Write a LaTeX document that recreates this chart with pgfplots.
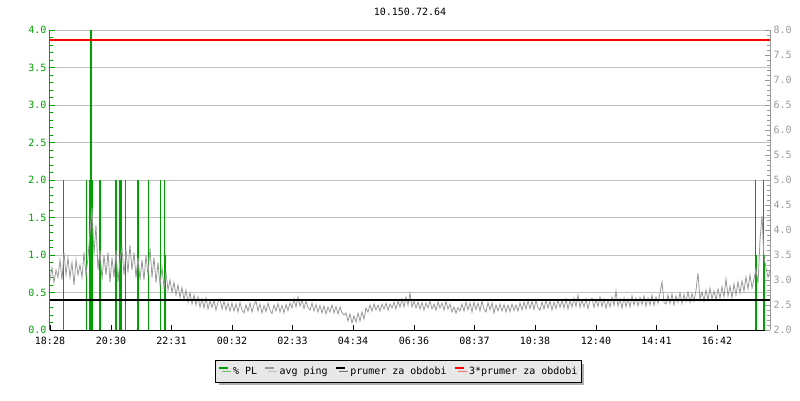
\documentclass[border=0pt]{standalone}
\usepackage{fontspec}
\setmainfont{DejaVu Sans Mono}
\usepackage{pgfplots}
\pgfplotsset{compat=1.18}
\usetikzlibrary{shadows}

\definecolor{plgreen}{RGB}{0,160,0}
\definecolor{pinggray}{RGB}{153,153,153}
\definecolor{gridgray}{RGB}{192,192,192}
\definecolor{legfill}{RGB}{232,232,232}
\definecolor{shadowgray}{RGB}{96,96,96}

\begin{document}
\begin{tikzpicture}[font=\fontsize{10}{12}\selectfont]
\path[use as bounding box] (-50pt,-70pt) rectangle (750pt,330pt);

% levy osa: ztrata paketu
\begin{axis}[
  scale only axis, width=720pt, height=300pt,
  xmin=0, xmax=1440, ymin=0, ymax=4,
  axis x line*=bottom, axis y line*=left,
  x axis line style={black, line width=1pt},
  y axis line style={plgreen, line width=1pt},
  tick align=inside,
  major tick length=5pt, minor tick length=3pt,
  xtick={0,122,243,364,485,606,728,849,970,1092,1213,1334},
  xticklabels={18:28,20:30,22:31,00:32,02:33,04:34,06:36,08:37,10:38,12:40,14:41,16:42},
  x tick style={black, line width=0.8pt},
  ytick={0,0.5,...,4}, minor y tick num=4,
  y tick style={plgreen, line width=0.8pt},
  ymajorgrids, major grid style={gridgray, line width=0.8pt},
  yticklabel style={text=plgreen, /pgf/number format/.cd, fixed, fixed zerofill, precision=1},
  /pgf/number format/assume math mode=true,
  xticklabel style={yshift=-4pt},
  title={10.150.72.64}, title style={at={(0.5,1)}, anchor=center, yshift=12pt},
]
\addplot[ycomb, plgreen, line width=1.4pt, mark=none] coordinates {
  (27,2)(73,2)(80,2)(82,4)(84,2)(100,2)(132,2)(140,2)(142,2)(151,2)
  (175,2)(177,2)(197,2)(221,2)(229,2)(231,1)
  (1411,2)(1413,1)(1427,2)(1429,1)
};
\end{axis}

% prava osa: ping
\begin{axis}[
  scale only axis, width=720pt, height=300pt,
  xmin=0, xmax=1440, ymin=2, ymax=8,
  axis x line=none, axis y line*=right,
  y axis line style={pinggray, line width=1pt},
  tick align=inside,
  major tick length=5pt, minor tick length=3pt,
  ytick={2,2.5,...,8}, minor y tick num=4,
  y tick style={pinggray, line width=0.8pt},
  yticklabel style={text=pinggray, /pgf/number format/.cd, fixed, fixed zerofill, precision=1},
  /pgf/number format/assume math mode=true,
  legend columns=4,
  legend style={at={(0.484,-0.138)}, anchor=center, draw=black, fill=legfill,
    line width=0.8pt, inner xsep=2pt, inner ysep=4pt,
    drop shadow={shadow xshift=3pt, shadow yshift=-3pt, fill=shadowgray},
    /tikz/every odd column/.append style={column sep=2pt},
    /tikz/every even column/.append style={column sep=5pt}},
  legend image code/.code={\draw[#1, line width=2.5pt] (0pt,3.5pt) -- (9pt,3.5pt);},
]
\addlegendimage{plgreen}
\addlegendimage{pinggray}
\addlegendimage{black}
\addlegendimage{red}
\addplot[pinggray, line width=0.8pt, mark=none, forget plot] coordinates {
(0,3.00)(4,3.25)(8,2.95)(12,3.20)(16,3.05)(20,3.40)(24,3.00)(28,3.55)(32,3.10)(36,3.45)
(40,3.05)(44,3.35)(48,2.90)(52,3.40)(56,3.10)(60,3.30)(64,3.05)(68,3.55)(72,3.10)(76,3.45)
(80,3.95)(84,4.45)(88,3.50)(92,4.10)(96,3.20)(100,3.60)(104,3.00)(108,3.50)(112,3.10)(116,3.55)
(120,2.95)(124,3.45)(128,3.05)(132,3.60)(136,2.95)(140,3.40)(144,3.65)(148,3.10)(152,3.60)(156,3.15)
(160,3.70)(164,3.20)(168,3.55)(172,3.05)(176,3.45)(180,3.00)(184,3.40)(188,3.00)(192,3.50)(196,3.10)
(200,3.65)(204,3.05)(208,3.45)(212,2.95)(216,3.35)(220,2.90)(224,3.25)(228,2.85)(232,3.15)(236,2.80)
(240,3.00)(244,2.75)(248,2.95)(252,2.70)(256,2.90)(260,2.65)(264,2.85)(268,2.60)(272,2.80)(276,2.55)
(280,2.75)(284,2.52)(288,2.70)(292,2.50)(296,2.66)(300,2.46)(304,2.62)(308,2.44)(312,2.64)(316,2.42)
(320,2.58)(324,2.45)(328,2.60)(332,2.40)(336,2.56)(340,2.62)(344,2.42)(348,2.58)(352,2.40)(356,2.54)
(360,2.38)(364,2.54)(368,2.38)(372,2.52)(376,2.36)(380,2.55)(384,2.40)(388,2.34)(392,2.50)(396,2.38)
(400,2.54)(404,2.36)(408,2.50)(412,2.58)(416,2.38)(420,2.52)(424,2.34)(428,2.49)(432,2.37)(436,2.54)
(440,2.40)(444,2.33)(448,2.50)(452,2.38)(456,2.53)(460,2.36)(464,2.49)(468,2.34)(472,2.51)(476,2.39)
(480,2.54)(484,2.44)(488,2.62)(492,2.46)(496,2.66)(500,2.48)(504,2.60)(508,2.43)(512,2.58)(516,2.45)
(520,2.40)(524,2.54)(528,2.38)(532,2.51)(536,2.36)(540,2.49)(544,2.34)(548,2.48)(552,2.32)(556,2.46)
(560,2.36)(564,2.50)(568,2.34)(572,2.47)(576,2.32)(580,2.46)(584,2.35)(588,2.30)(592,2.34)(596,2.18)
(600,2.32)(604,2.14)(608,2.28)(612,2.16)(616,2.34)(620,2.18)(624,2.36)(628,2.22)(632,2.44)(636,2.36)
(640,2.50)(644,2.38)(648,2.52)(652,2.40)(656,2.50)(660,2.38)(664,2.52)(668,2.42)(672,2.54)(676,2.40)
(680,2.52)(684,2.44)(688,2.56)(692,2.42)(696,2.58)(700,2.46)(704,2.62)(708,2.46)(712,2.66)(716,2.50)
(720,2.74)(724,2.46)(728,2.58)(732,2.44)(736,2.56)(740,2.42)(744,2.55)(748,2.40)(752,2.54)(756,2.44)
(760,2.58)(764,2.42)(768,2.52)(772,2.40)(776,2.56)(780,2.44)(784,2.54)(788,2.40)(792,2.57)(796,2.42)
(800,2.52)(804,2.36)(808,2.46)(812,2.34)(816,2.45)(820,2.38)(824,2.52)(828,2.38)(832,2.56)(836,2.40)
(840,2.54)(844,2.36)(848,2.56)(852,2.41)(856,2.54)(860,2.38)(864,2.58)(868,2.42)(872,2.36)(876,2.55)
(880,2.40)(884,2.54)(888,2.34)(892,2.50)(896,2.38)(900,2.52)(904,2.38)(908,2.51)(912,2.36)(916,2.50)
(920,2.37)(924,2.52)(928,2.39)(932,2.50)(936,2.38)(940,2.54)(944,2.40)(948,2.56)(952,2.42)(956,2.58)
(960,2.43)(964,2.57)(968,2.41)(972,2.60)(976,2.44)(980,2.40)(984,2.56)(988,2.42)(992,2.60)(996,2.44)
(1000,2.58)(1004,2.40)(1008,2.56)(1012,2.43)(1016,2.60)(1020,2.45)(1024,2.59)(1028,2.44)(1032,2.62)(1036,2.42)
(1040,2.58)(1044,2.46)(1048,2.64)(1052,2.47)(1056,2.70)(1060,2.45)(1064,2.60)(1068,2.46)(1072,2.62)(1076,2.43)
(1080,2.59)(1084,2.64)(1088,2.45)(1092,2.61)(1096,2.47)(1100,2.66)(1104,2.47)(1108,2.62)(1112,2.44)(1116,2.60)
(1120,2.46)(1124,2.66)(1128,2.49)(1132,2.78)(1136,2.48)(1140,2.62)(1144,2.44)(1148,2.64)(1152,2.47)(1156,2.62)
(1160,2.46)(1164,2.68)(1168,2.50)(1172,2.64)(1176,2.48)(1180,2.65)(1184,2.51)(1188,2.68)(1192,2.48)(1196,2.64)
(1200,2.50)(1204,2.70)(1208,2.49)(1212,2.66)(1216,2.53)(1220,2.74)(1224,2.96)(1228,2.55)(1232,2.52)(1236,2.70)
(1240,2.53)(1244,2.72)(1248,2.50)(1252,2.68)(1256,2.55)(1260,2.74)(1264,2.53)(1268,2.71)(1272,2.57)(1276,2.76)
(1280,2.55)(1284,2.73)(1288,2.58)(1292,2.80)(1296,3.14)(1300,2.61)(1304,2.76)(1308,2.58)(1312,2.80)(1316,2.60)
(1320,2.84)(1324,2.62)(1328,2.78)(1332,2.60)(1336,2.82)(1340,2.64)(1344,2.86)(1348,2.66)(1352,3.02)(1356,2.68)
(1360,2.88)(1364,2.64)(1368,2.92)(1372,2.70)(1376,2.96)(1380,2.74)(1384,2.98)(1388,2.78)(1392,3.06)(1396,2.82)
(1400,3.10)(1404,2.84)(1408,3.02)(1412,3.22)(1416,2.92)(1420,3.80)(1424,4.28)(1428,3.45)(1432,3.25)(1436,3.05)
(1440,3.20)
};
\addplot[black, line width=2.5pt, mark=none, forget plot] coordinates {(0,2.6)(1440,2.6)};
\addplot[red, line width=1.3pt, mark=none, forget plot] coordinates {(0,7.8)(1440,7.8)};
\legend{\% PL, avg ping, prumer za obdobi, 3*prumer za obdobi}
\end{axis}
\end{tikzpicture}
\end{document}
